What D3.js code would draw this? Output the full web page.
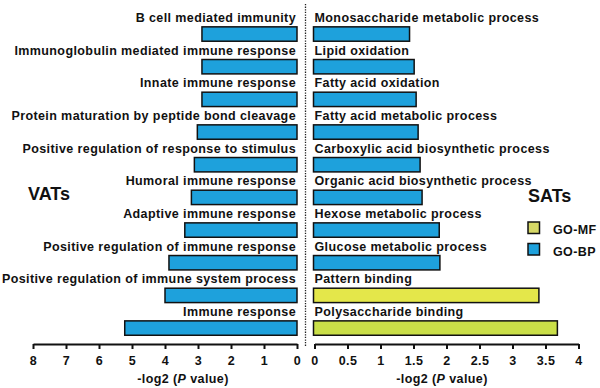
<!DOCTYPE html>
<html>
<head>
<meta charset="utf-8">
<script src="https://cdn.jsdelivr.net/npm/d3@7"></script>
<style>
  body { margin: 0; background: #fff; }
  text { font-family: "Liberation Sans", Arial, sans-serif; font-weight: bold; fill: #111; }
</style>
</head>
<body>
<div id="chart"></div>
<script>
const svgWidth = 600
const svgHeight = 388

// VATs (left panel)
const vatTerms = [
  "B cell mediated immunity",
  "Immunoglobulin mediated immune response",
  "Innate immune response",
  "Protein maturation by peptide bond cleavage",
  "Positive regulation of response to stimulus",
  "Humoral immune response",
  "Adaptive immune response",
  "Positive regulation of immune response",
  "Positive regulation of immune system process",
  "Immune response"
]
const vatValues = [2.88, 2.88, 2.88, 3.02, 3.11, 3.2, 3.4, 3.88, 4.0, 5.22]

// SATs (right panel)
const satTerms = [
  "Monosaccharide metabolic process",
  "Lipid oxidation",
  "Fatty acid oxidation",
  "Fatty acid metabolic process",
  "Carboxylic acid biosynthetic process",
  "Organic acid biosynthetic process",
  "Hexose metabolic process",
  "Glucose metabolic process",
  "Pattern binding",
  "Polysaccharide binding"
]
const satValues = [1.44, 1.51, 1.54, 1.57, 1.6, 1.63, 1.89, 1.9, 3.4, 3.68]
const satTypes = ["GO-BP", "GO-BP", "GO-BP", "GO-BP", "GO-BP", "GO-BP", "GO-BP", "GO-BP", "GO-MF", "GO-MF"]

const leftTicks = [8, 7, 6, 5, 4, 3, 2, 1, 0]
const rightTicks = [0, 0.5, 1, 1.5, 2, 2.5, 3, 3.5, 4]
const legendItems = ["GO-MF", "GO-BP"]

const blue = "#1ea1dc"
const mfColors = ["#e4e74a", "#cadf48"]

let svg = d3.select("#chart")
  .append("svg")
  .attr("width", svgWidth)
  .attr("height", svgHeight)

let xLeft = d3.scaleLinear().domain([8, 0]).range([33, 297])
let xRight = d3.scaleLinear().domain([0, 4]).range([314.5, 578.5])

let y = d3.scaleBand()
  .domain(d3.range(10))
  .range([17.7, 344.4])
  .paddingInner(0.56)
  .paddingOuter(0.28)

const axisY = 344
const labelStyle = sel => sel.attr("font-size", "12.5px").attr("letter-spacing", "0.4px")

// left bars
svg.append("g")
  .selectAll("rect")
  .data(vatValues)
  .enter()
  .append("rect")
  .attr("x", d => xLeft(d))
  .attr("y", (d, i) => y(i))
  .attr("width", d => xLeft(0) - xLeft(d))
  .attr("height", y.bandwidth())
  .attr("fill", blue)
  .attr("stroke", "#111")
  .attr("stroke-width", 1.5)

svg.append("g")
  .selectAll("text")
  .data(vatTerms)
  .enter()
  .append("text")
  .attr("x", 296)
  .attr("y", (d, i) => y(i) - 5)
  .attr("text-anchor", "end")
  .call(labelStyle)
  .text(d => d)

// right bars
let mfIndex = 0
svg.append("g")
  .selectAll("rect")
  .data(satValues)
  .enter()
  .append("rect")
  .attr("x", xRight(0) - 1)
  .attr("y", (d, i) => y(i))
  .attr("width", d => xRight(d) - xRight(0) + 1)
  .attr("height", y.bandwidth())
  .attr("fill", (d, i) => satTypes[i] === "GO-MF" ? mfColors[mfIndex++] : blue)
  .attr("stroke", "#111")
  .attr("stroke-width", 1.5)

svg.append("g")
  .selectAll("text")
  .data(satTerms)
  .enter()
  .append("text")
  .attr("x", 314.5)
  .attr("y", (d, i) => y(i) - 5)
  .call(labelStyle)
  .text(d => d)

// dotted divider
svg.append("line")
  .attr("x1", 305.5).attr("x2", 305.5)
  .attr("y1", 4).attr("y2", 347)
  .attr("stroke", "#222")
  .attr("stroke-width", 1.3)
  .attr("stroke-dasharray", "1.3,1.3")

// axes
function styleAxis(g) {
  g.select(".domain").attr("stroke", "#111").attr("stroke-width", 2)
  g.selectAll(".tick line").attr("stroke", "#111").attr("stroke-width", 2)
  g.selectAll(".tick text")
    .attr("fill", "#111")
    .style("font-family", "'Liberation Sans', Arial, sans-serif")
    .style("font-weight", "bold")
    .style("font-size", "12.5px")
    .attr("letter-spacing", "0.4px")
}

svg.append("g")
  .attr("transform", `translate(0, ${axisY})`)
  .call(d3.axisBottom(xLeft).tickValues(leftTicks).tickFormat(d3.format("~g"))
    .tickSizeInner(5).tickSizeOuter(0).tickPadding(7))
  .call(styleAxis)

svg.append("g")
  .attr("transform", `translate(0, ${axisY})`)
  .call(d3.axisBottom(xRight).tickValues(rightTicks).tickFormat(d3.format("~g"))
    .tickSizeInner(5).tickSizeOuter(0).tickPadding(7))
  .call(styleAxis)

// axis titles
function axisTitle(x) {
  let t = svg.append("text")
    .attr("x", x)
    .attr("y", 383)
    .attr("text-anchor", "middle")
    .call(labelStyle)
  t.append("tspan").text("-log2 (")
  t.append("tspan").attr("font-style", "italic").text("P")
  t.append("tspan").text(" value)")
}
axisTitle(183)
axisTitle(442)

// panel titles
svg.append("text").attr("x", 28).attr("y", 200).attr("font-size", "18px").text("VATs")
svg.append("text").attr("x", 528).attr("y", 202).attr("font-size", "18px").text("SATs")

// legend
let legend = svg.append("g")
  .selectAll("g")
  .data(legendItems)
  .enter()
  .append("g")
  .attr("transform", (d, i) => `translate(528, ${222 + i * 21.5})`)

legend.append("rect")
  .attr("width", 11.5)
  .attr("height", 11.5)
  .attr("fill", d => d === "GO-MF" ? "#d6d866" : blue)
  .attr("stroke", "#111")
  .attr("stroke-width", 1.5)

legend.append("text")
  .attr("x", 25)
  .attr("y", 8)
  .attr("dy", "0.35em")
  .call(labelStyle)
  .text(d => d)
</script>
</body>
</html>
